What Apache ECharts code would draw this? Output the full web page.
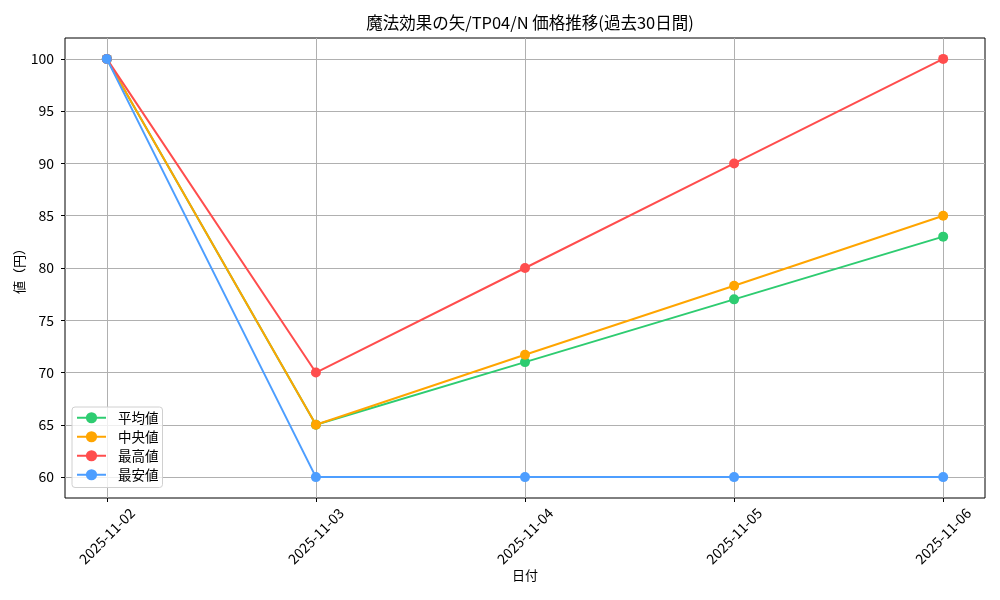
<!DOCTYPE html>
<html><head><meta charset="utf-8">
<script src="https://cdn.jsdelivr.net/npm/echarts@6/dist/echarts.min.js"></script>
<style>html,body{margin:0;padding:0;background:#fff}#c{width:1000px;height:600px}</style>
</head><body><div id="c"></div>
<script>
const categories = ['2025-11-02','2025-11-03','2025-11-04','2025-11-05','2025-11-06'];
const avgValues = [100, 65, 71, 77, 83];
const medianValues = [100, 65, 71.7, 78.3, 85];
const maxValues = [100, 70, 80, 90, 100];
const minValues = [100, 60, 60, 60, 60];
const yTicks = [60, 65, 70, 75, 80, 85, 90, 95, 100];
const seriesNames = ['平均値','中央値','最高値','最安値'];
const colors = ['#2ecc71','#ffa500','#ff4d4d','#4d9eff'];

const font = '"Noto Sans CJK JP", "DejaVu Sans", sans-serif';
const idx = categories.map((_, i) => i);
const allData = [avgValues, medianValues, maxValues, minValues];

const chart = echarts.init(document.getElementById('c'), null, {renderer: 'canvas'});
chart.setOption({
  animation: false,
  backgroundColor: '#fff',
  textStyle: {fontFamily: font},
  title: {
    text: '魔法効果の矢/TP04/N 価格推移(過去30日間)',
    left: 525, top: 9, textAlign: 'center',
    textStyle: {fontSize: 16.5, fontWeight: 'normal', color: '#000', fontFamily: font}
  },
  legend: {
    orient: 'vertical', left: 72, top: 407,
    itemWidth: 29, itemHeight: 14, itemGap: 5.5,
    padding: [4, 4, 6, 4],
    borderColor: '#d0d0d0', borderWidth: 1, borderRadius: 3,
    backgroundColor: 'rgba(255,255,255,0.8)',
    textStyle: {fontSize: 13.5, color: '#000', fontFamily: font, padding: [0, 0, 0, 7]},
    data: seriesNames
  },
  grid: {left: 65, right: 15, top: 38, bottom: 102, show: true, borderColor: '#000', borderWidth: 1,
    containLabel: false, outerBoundsMode: 'none'},
  xAxis: {
    type: 'value', min: -0.2, max: 4.2,
    name: '日付', nameLocation: 'middle', nameGap: 71, nameMoveOverlap: false,
    nameTextStyle: {fontSize: 13, color: '#000'},
    axisLine: {show: false, onZero: false},
    axisTick: {show: true, customValues: idx, length: 4, lineStyle: {color: '#000'}},
    axisLabel: {customValues: idx, rotate: 45, fontSize: 14, color: '#000', margin: 38,
      align: 'center', verticalAlign: 'middle',
      formatter: v => categories[Math.round(v)]},
    splitLine: {show: true, lineStyle: {color: '#b0b0b0', width: 1}}
  },
  yAxis: {
    type: 'value', min: 58, max: 102,
    name: '値（円）', nameLocation: 'middle', nameGap: 39, nameRotate: 90, nameMoveOverlap: false,
    nameTextStyle: {fontSize: 13, color: '#000'},
    axisLine: {show: false, onZero: false},
    axisTick: {show: true, customValues: yTicks, length: 4, lineStyle: {color: '#000'}},
    axisLabel: {customValues: yTicks, fontSize: 14, color: '#000', margin: 11},
    splitLine: {show: true, lineStyle: {color: '#b0b0b0', width: 1}}
  },
  series: seriesNames.map((name, s) => ({
    name, type: 'line',
    data: allData[s].map((v, i) => [idx[i], v]),
    symbol: 'circle', symbolSize: 10,
    lineStyle: {width: 2, color: colors[s]},
    itemStyle: {color: colors[s]},
    z: 2 + s
  }))
});
</script></body></html>
